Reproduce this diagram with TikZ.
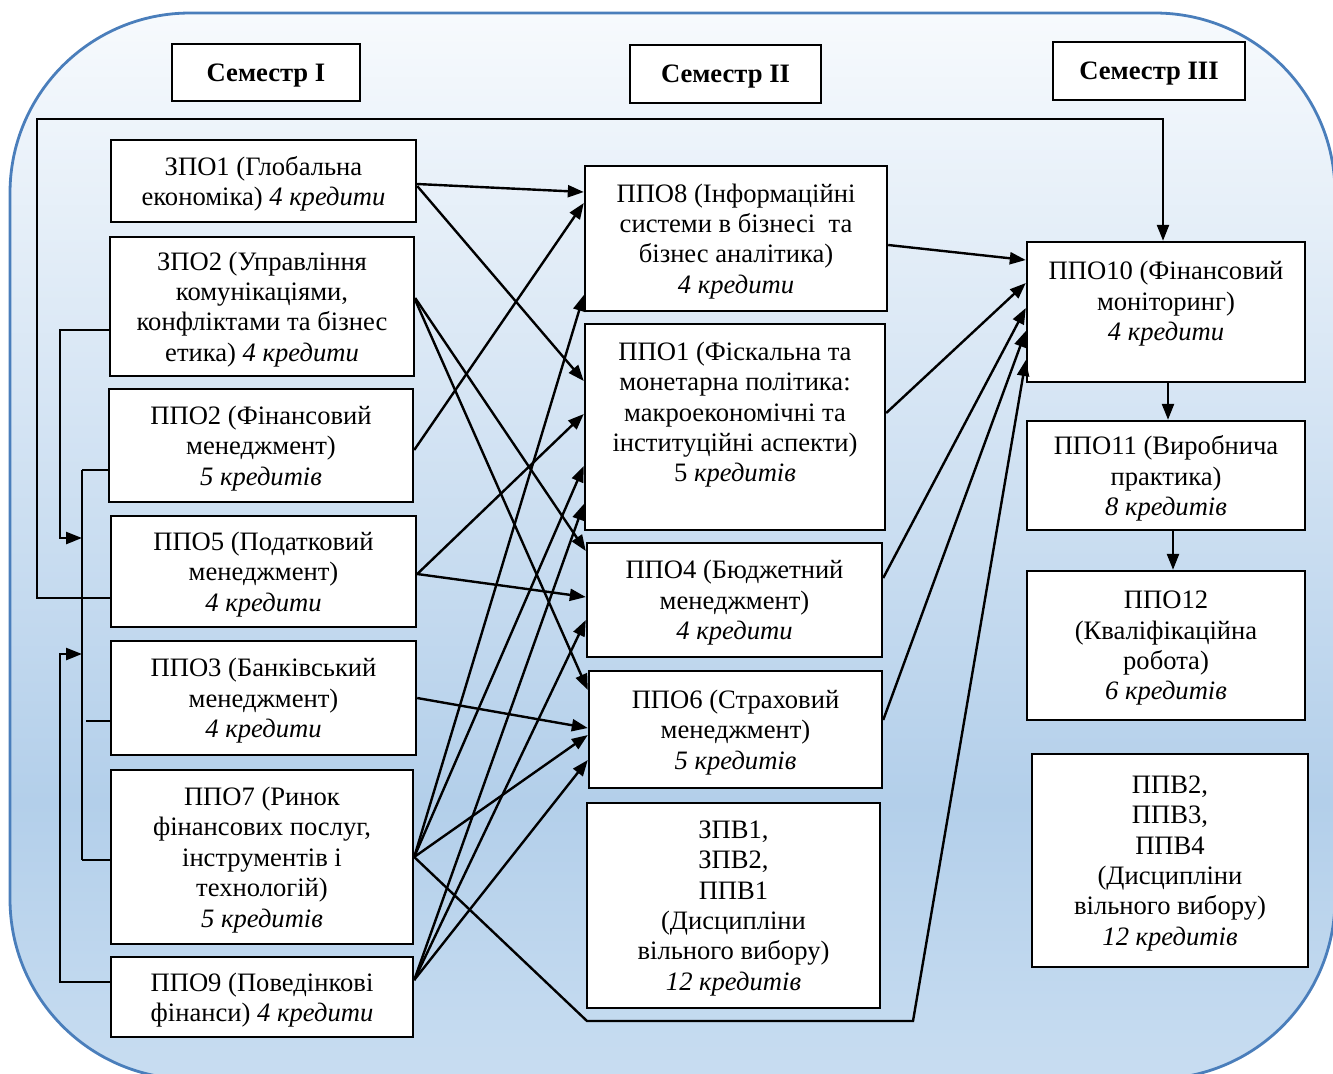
\documentclass[tikz,border=0pt]{standalone}
\usepackage{fontspec}
\setmainfont{Liberation Serif}
\usetikzlibrary{arrows.meta}
\definecolor{bgA}{HTML}{C8DDF1}
\definecolor{bgB}{HTML}{B3CFEA}
\definecolor{bgC}{HTML}{D6E5F4}
\definecolor{bgD}{HTML}{F7FAFD}
\definecolor{bord}{HTML}{4A7EBB}
\pgfdeclareverticalshading{bgshade}{100bp}{color(0bp)=(bgA); color(25bp)=(bgA); color(38bp)=(bgB); color(57bp)=(bgC); color(75bp)=(bgD); color(100bp)=(bgD)}
\begin{document}
\begin{tikzpicture}[x=0.5pt,y=-0.5pt,
  box/.style={draw=black, line width=1.2pt, fill=white, inner sep=0pt, text depth=0pt, align=center, font=\fontsize{13.3}{15.2}\selectfont},
  wh/.style 2 args={minimum width=#1*0.5pt, minimum height=#2*0.5pt},
  sem/.style={box, font=\fontsize{13.3}{15.2}\selectfont\bfseries},
  conn/.style={line width=1.2pt, draw=black},
  arr/.style={conn, -{Triangle[length=8pt,width=6pt]}},
]
\fill[white] (0,0) rectangle (1333,1073);
\useasboundingbox (0,0) rectangle (1333,1073);
\clip (0,0) rectangle (1333,1073);
\shadedraw[shading=bgshade, draw=bord, line width=1.4pt, rounded corners=90pt] (10,13) rectangle (1335,1079);

% semester headers
\node[sem, wh={188}{57}] (s1) at (266,72.5) {Семестр І};
\node[sem, wh={191}{58}] (s2) at (725.5,74) {Семестр ІІ};
\node[sem, wh={192}{58}] (s3) at (1149,71) {Семестр ІІІ};

% column 1
\node[box, wh={305}{82}] (zpo1) at (263.5,181) {ЗПО1 (Глобальна\\економіка) \textit{4 кредити}};
\node[box, wh={304}{139}] (zpo2) at (262,306.5) {ЗПО2 (Управління\\комунікаціями,\\конфліктами та бізнес\\етика) \textit{4 кредити}};
\node[box, wh={304}{113}] (ppo2) at (261,445.5) {ППО2 (Фінансовий\\менеджмент)\\\textit{5 кредитів}};
\node[box, wh={305}{111}] (ppo5) at (263.5,571.5) {ППО5 (Податковий\\менеджмент)\\\textit{4 кредити}};
\node[box, wh={305}{114}] (ppo3) at (263.5,698) {ППО3 (Банківський\\менеджмент)\\\textit{4 кредити}};
\node[box, wh={302}{174}] (ppo7) at (262,857) {ППО7 (Ринок\\фінансових послуг,\\інструментів і\\технологій)\\\textit{5 кредитів}};
\node[box, wh={302}{80}] (ppo9) at (262,997) {ППО9 (Поведінкові\\фінанси) \textit{4 кредити}};

% column 2
\node[box, wh={302}{145}] (ppo8) at (736,238.5) {ППО8 (Інформаційні\\системи в бізнесі\ \ та\\бізнес аналітика)\\\textit{4 кредити}};
\node[box, wh={300}{206}] (ppo1) at (735,427) {ППО1 (Фіскальна та\\монетарна політика:\\макроекономічні та\\інституційні аспекти)\\5 \textit{кредитів}\\\mbox{}};
\node[box, wh={295}{114}] (ppo4) at (734.5,600) {ППО4 (Бюджетний\\менеджмент)\\\textit{4 кредити}};
\node[box, wh={293}{117}] (ppo6) at (735.5,729.5) {ППО6 (Страховий\\менеджмент)\\\textit{5 кредитів}};
\node[box, wh={293}{205}] (zpv) at (733.5,905.5) {ЗПВ1,\\ЗПВ2,\\ППВ1\\(Дисципліни\\вільного вибору)\\\textit{12 кредитів}};

% column 3
\node[box, wh={278}{140}] (ppo10) at (1166,312) {ППО10 (Фінансовий\\моніторинг)\\\textit{4 кредити}\\[-4pt]\mbox{}};
\node[box, wh={278}{109}] (ppo11) at (1166,475.5) {ППО11 (Виробнича\\практика)\\\textit{8 кредитів}};
\node[box, wh={278}{149}] (ppo12) at (1166,645.5) {ППО12\\(Кваліфікаційна\\робота)\\\textit{6 кредитів}};
\node[box, wh={276}{213}] (ppv) at (1170,860.5) {ППВ2,\\ППВ3,\\ППВ4\\(Дисципліни\\вільного вибору)\\\textit{12 кредитів}};

% free connector points
\coordinate (L1) at (37,119);
\coordinate (k1) at (60,538); \coordinate (t1) at (82,538);
\coordinate (k2) at (60,654); \coordinate (t2) at (82,654);
\coordinate (bt) at (82,470); \coordinate (bb) at (82,860); \coordinate (b3) at (86,721);
\coordinate (d1) at (587,1021); \coordinate (d2) at (913,1021);

% left-side links
\draw[arr] ([yshift=-13.25pt]ppo5.west) -| (L1) -| ([xshift=-1.5pt]ppo10.north);
\draw[arr] ([yshift=-11.75pt]zpo2.west) -| (k1) -- (t1);
\draw[arr] ([yshift=7.5pt]ppo9.west) -| (k2) -- (t2);
\draw[conn] (bt) -- (bb);
\draw[conn] ([yshift=-12.25pt]ppo2.west) -- (bt);
\draw[conn] ([yshift=-11.5pt]ppo3.west) -- (b3);
\draw[conn] ([yshift=-1.5pt]ppo7.west) -- (bb);

% column 1 -> column 2
\draw[arr] ([yshift=-1.5pt]zpo1.east) -- ([yshift=23.25pt]ppo8.west);
\draw[arr] ([yshift=-2.5pt]zpo1.east) -- ([yshift=23pt]ppo1.west);
\draw[arr] ([yshift=4.25pt]zpo2.east) -- ([yshift=24.5pt]ppo4.west);
\draw[arr] ([yshift=3.25pt]zpo2.east) -- ([yshift=19.75pt]ppo6.west);
\draw[arr] ([yshift=-2.25pt]ppo2.east) -- ([yshift=17.75pt]ppo8.west);
\draw[arr] ([yshift=-1.25pt]ppo5.east) -- ([yshift=6.5pt]ppo1.west);
\draw[arr] ([yshift=-1.25pt]ppo5.east) -- ([yshift=1.5pt]ppo4.west);
\draw[arr] (ppo3.east) -- ([yshift=0.75pt]ppo6.west);
\draw[arr] (ppo7.east) -- ([yshift=-28.25pt]ppo8.west);
\draw[arr] (ppo7.east) -- ([yshift=-19.5pt]ppo1.west);
\draw[arr] (ppo7.east) -- ([yshift=-2.75pt]ppo6.west);
\draw[arr] ([yshift=8.5pt]ppo9.east) -- ([yshift=-38.5pt]ppo1.west);
\draw[arr] ([yshift=8.5pt]ppo9.east) -- ([yshift=-10pt]ppo4.west);
\draw[arr] ([yshift=8.5pt]ppo9.east) -- ([yshift=-15.25pt]ppo6.west);
\draw[arr] (ppo7.east) -- (d1) -- (d2) -- ([yshift=-24pt]ppo10.west);

% column 2 -> column 3
\draw[arr] ([yshift=-3.25pt]ppo8.east) -- ([yshift=26pt]ppo10.west);
\draw[arr] ([yshift=7pt]ppo1.east) -- ([yshift=14.5pt]ppo10.west);
\draw[arr] ([yshift=11pt]ppo4.east) -- ([yshift=2pt]ppo10.west);
\draw[arr] ([yshift=4.75pt]ppo6.east) -- ([yshift=-9.5pt]ppo10.west);

% column 3 chain
\draw[arr] ([xshift=1pt]ppo10.south) -- ([xshift=1pt]ppo11.north);
\draw[arr] ([xshift=3.5pt]ppo11.south) -- ([xshift=3.5pt]ppo12.north);
\end{tikzpicture}
\end{document}
